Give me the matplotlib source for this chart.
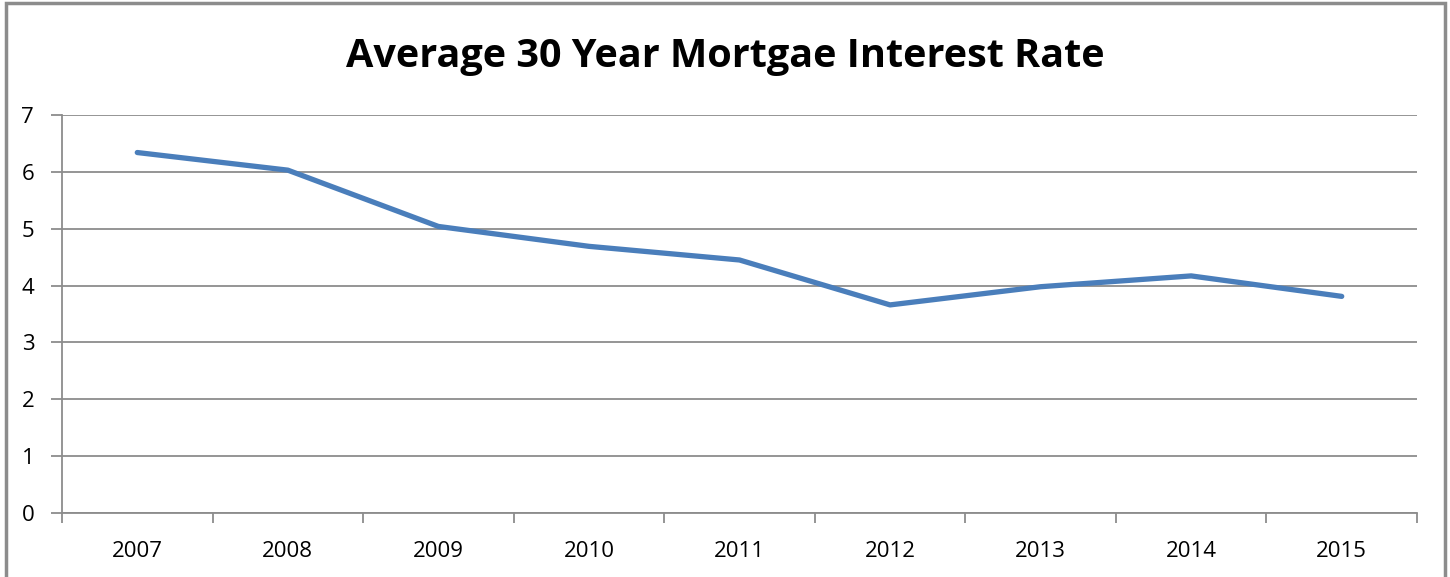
import matplotlib.pyplot as plt
from matplotlib.patches import Rectangle
import numpy as np

years = ['2007', '2008', '2009', '2010', '2011', '2012', '2013', '2014', '2015']
rates = [6.34, 6.03, 5.04, 4.69, 4.45, 3.66, 3.98, 4.17, 3.81]

plt.rcParams['font.family'] = ['Open Sans', 'DejaVu Sans']

fig = plt.figure(figsize=(14.5, 5.77), dpi=100)
ax = fig.add_axes([62/1450, 1 - 513/577, (1417 - 62)/1450, (513 - 115)/577])

x = np.arange(len(years))
ax.plot(x, rates, color='#4A7EBB', lw=3.8, solid_capstyle='round', zorder=3)

ax.set_xlim(-0.5, len(years) - 0.5)
ax.set_ylim(0, 7)
ax.set_yticks(range(8))
ax.yaxis.grid(True, color='#8c8c8c', lw=1.3)
ax.set_axisbelow(True)

# category ticks sit between the labels
ax.set_xticks(np.arange(-0.5, len(years), 1.0))
ax.set_xticklabels([])
ax.set_xticks(x, minor=True)
ax.set_xticklabels(years, minor=True)
ax.tick_params(axis='x', which='major', length=7, width=1.3, color='#8c8c8c', direction='out')
ax.tick_params(axis='x', which='minor', length=0, pad=20, labelsize=16)
ax.tick_params(axis='y', length=8, width=1.3, color='#8c8c8c', labelsize=16, pad=12)

for s in ['top', 'right']:
    ax.spines[s].set_visible(False)
for s in ['left', 'bottom']:
    ax.spines[s].set_color('#8c8c8c')
    ax.spines[s].set_linewidth(1.3)

fig.text(0.5, 1 - 56/577, 'Average 30 Year Mortgae Interest Rate', ha='center', va='center',
         fontsize=28.5, fontweight='bold')

fig.patches.append(Rectangle((6/1450, -0.05), (1445 - 6)/1450, 1.05 - 3/577,
                             transform=fig.transFigure, fill=False,
                             edgecolor='#8c8c8c', lw=2.5))

fig.savefig('out.png', dpi=100)
